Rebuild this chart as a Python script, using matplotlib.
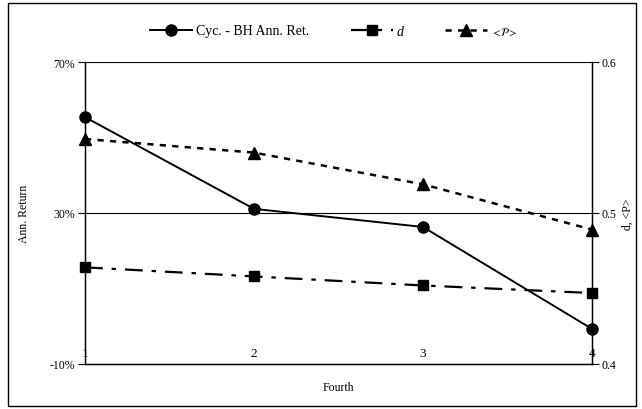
import matplotlib
matplotlib.use("Agg")
import matplotlib.pyplot as plt
from matplotlib.patches import Rectangle

quarters = [1, 2, 3, 4]
tick_labels = ["1", "2", "3", "4"]
cyc_bh_ret = [55.4, 31.1, 26.3, -0.7]   # percent
d_vals = [0.464, 0.458, 0.452, 0.447]
p_vals = [0.549, 0.540, 0.519, 0.489]

plt.rcParams['font.family'] = ['Liberation Serif', 'DejaVu Serif']
plt.rcParams['mathtext.fontset'] = 'stix'
W, H = 642, 410
fig = plt.figure(figsize=(W/100, H/100), dpi=100)
ax = fig.add_axes([85/W, 1-365/H, (592-85)/W, (365-63)/H])
ax2 = ax.twinx()

ax.set_xlim(1, 4)
ax.set_ylim(-10, 70)
ax.set_yticks([-10, 30, 70])
ax.set_yticklabels(["-10%", "30%", "70%"], fontsize=8.5)
ax.yaxis.grid(True, color='black', lw=0.8)
ax.set_xticks([])
ax.spines['top'].set_visible(False)
ax2.spines['top'].set_visible(False)
for s in ['left', 'right', 'bottom']:
    ax.spines[s].set_linewidth(1.0)
ax.tick_params(axis='y', direction='out', length=5, width=0.8, pad=2)

ax2.set_ylim(0.4, 0.6)
ax2.set_yticks([0.4, 0.5, 0.6])
ax2.set_yticklabels(["0.4", "0.5", "0.6"], fontsize=8.5)
ax2.tick_params(axis='y', direction='out', length=5, width=0.8, pad=2)

l1, = ax.plot(quarters, cyc_bh_ret, color='black', lw=1.4, marker='o', markersize=8, clip_on=False, zorder=5)
l2, = ax2.plot(quarters, d_vals, color='black', lw=1.6, marker='s', markersize=7,
               dashes=(8, 4, 2, 4), clip_on=False, zorder=5)
l3, = ax2.plot(quarters, p_vals, color='black', lw=1.8, marker='^', markersize=8,
               dashes=(2.5, 2.5), clip_on=False, zorder=5)

for q, lab in zip(quarters, tick_labels):
    ax.text(q, -10 + 1.2, lab, ha='center', va='bottom', fontsize=9.5)

ax.set_ylabel("Ann. Return", fontsize=8.5, labelpad=14)
ax2.set_ylabel("d, <P>", fontsize=8.5, labelpad=4)
ax.set_xlabel("Fourth", fontsize=8.5, labelpad=12)

leg = fig.legend([l1, l2, l3], ["Cyc. - BH Ann. Ret.", "d", r"$<\!\mathcal{P}\!>$"],
                 loc='center', bbox_to_anchor=(0.52, 1-32/H), ncol=3, frameon=False, fontsize=10,
                 handlelength=3, columnspacing=3.0, handletextpad=0.3)
leg.get_texts()[1].set_style('italic')
leg.get_texts()[2].set_fontsize(8)

fig.patches.append(Rectangle((8/W, 3/H), (636-8)/W, (406-3)/H, transform=fig.transFigure,
                             fill=False, edgecolor='black', lw=1))
fig.savefig("out.png", dpi=100)
